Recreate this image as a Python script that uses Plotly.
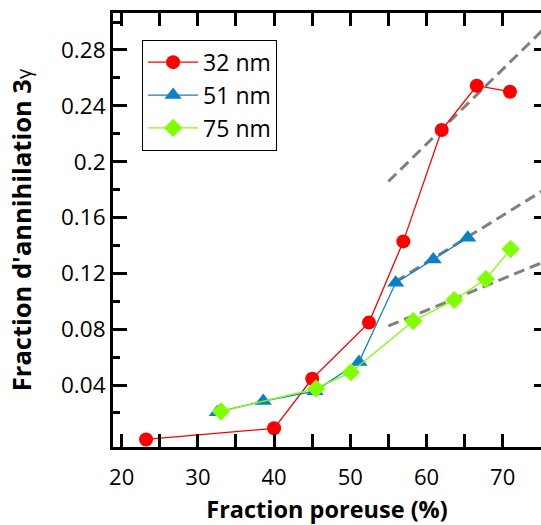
import plotly.graph_objects as go

# ---- data ----
x_32 = [23.2, 40.0, 45.0, 52.45, 56.96, 62.0, 66.6, 70.96]
y_32 = [0.001, 0.009, 0.0445, 0.0847, 0.1429, 0.2227, 0.2544, 0.2501]

x_51 = [32.55, 38.58, 45.37, 51.14, 55.96, 60.89, 65.41]
y_51 = [0.0205, 0.0285, 0.0356, 0.0565, 0.1132, 0.1300, 0.1455]

x_75 = [33.03, 45.5, 50.09, 58.27, 63.65, 67.8, 71.05]
y_75 = [0.0211, 0.0374, 0.0492, 0.0858, 0.1009, 0.1159, 0.1374]

fit1_x = [55.0, 75.5]
fit1_y = [0.1858, 0.2956]
fit2_x = [55.9, 75.5]
fit2_y = [0.1140, 0.1800]
fit3_x = [55.0, 75.5]
fit3_y = [0.0823, 0.1284]

series_names = ["32 nm", "51 nm", "75 nm"]
x_ticks = [20, 30, 40, 50, 60, 70]
x_minor = [25, 35, 45, 55, 65, 75]
y_ticks = [0.04, 0.08, 0.12, 0.16, 0.20, 0.24, 0.28]
y_labels = ["0.04", "0.08", "0.12", "0.16", "0.2", "0.24", "0.28"]
y_minor = [0.02, 0.06, 0.10, 0.14, 0.18, 0.22, 0.26, 0.30]

RED = "#FF0000"
BLUE = "#0A80C6"
GREEN = "#80FF00"
FONT = "Open Sans"

fig = go.Figure()

for fx, fy in [(fit1_x, fit1_y), (fit2_x, fit2_y), (fit3_x, fit3_y)]:
    fig.add_trace(go.Scatter(x=fx, y=fy, mode="lines", showlegend=False,
                             line=dict(color="#808080", width=3, dash="11px,6px"),
                             hoverinfo="skip", cliponaxis=True))

fig.add_trace(go.Scatter(x=x_32, y=y_32, mode="lines+markers", name=series_names[0],
                         line=dict(color=RED, width=1.3),
                         marker=dict(symbol="circle", size=14, color=RED)))
fig.add_trace(go.Scatter(x=x_51, y=y_51, mode="lines+markers", name=series_names[1],
                         line=dict(color=BLUE, width=1.3),
                         marker=dict(symbol="triangle-up", size=15, color=BLUE)))
fig.add_trace(go.Scatter(x=x_75, y=y_75, mode="lines+markers", name=series_names[2],
                         line=dict(color=GREEN, width=1.3),
                         marker=dict(symbol="diamond", size=14, color=GREEN)))

# dummy trace for right-hand tick axis
fig.add_trace(go.Scatter(x=[None], y=[None], yaxis="y2", showlegend=False, hoverinfo="skip"))

yr = [-0.0044, 0.3065]
xr = [18.86, 75.03]

fig.update_layout(
    width=541, height=525,
    margin=dict(l=113, r=0, t=13, b=78, autoexpand=False),
    paper_bgcolor="white", plot_bgcolor="white",
    font=dict(family=FONT, size=22, color="black"),
    hovermode=False,
    showlegend=True,
    legend=dict(x=0.068, y=0.9385, xanchor="left", yanchor="top",
                bgcolor="white", bordercolor="black", borderwidth=1,
                font=dict(family=FONT, size=23, color="black"),
                itemwidth=50, tracegroupgap=0),
    xaxis=dict(range=xr, showgrid=False, zeroline=False, automargin=False,
               showline=True, linecolor="black", linewidth=3, mirror="allticks",
               ticks="inside", ticklen=13, tickwidth=3, tickcolor="black",
               tickvals=x_ticks, ticktext=[str(v) for v in x_ticks],
               tickfont=dict(family=FONT, size=22), ticklabelstandoff=9,
               minor=dict(tickvals=x_minor, ticks="inside", ticklen=6, tickwidth=3, tickcolor="black"),
               title=dict(text="<b>Fraction poreuse (%)</b>", font=dict(family=FONT, size=23.5), standoff=15)),
    yaxis=dict(range=yr, showgrid=False, zeroline=False, automargin=False,
               showline=True, linecolor="black", linewidth=3, mirror=False,
               ticks="inside", ticklen=14, tickwidth=3, tickcolor="black",
               tickvals=y_ticks, ticktext=y_labels,
               tickfont=dict(family=FONT, size=22.5),
               minor=dict(tickvals=y_minor, ticks="inside", ticklen=7, tickwidth=3, tickcolor="black"),
               title=dict(text="<b>Fraction d'annihilation 3</b><span style='font-size:20px'>γ</span>",
                          font=dict(family=FONT, size=25.5), standoff=23)),
    yaxis2=dict(range=yr, overlaying="y", side="right", anchor="x", automargin=False,
                showgrid=False, zeroline=False, showline=False,
                ticks="inside", ticklen=7, tickwidth=3, tickcolor="black",
                tickvals=y_ticks, showticklabels=False),
)

fig.write_html("out.html", config={"displayModeBar": False, "staticPlot": True},
               post_script="document.body.style.margin='0';document.body.style.overflow='hidden';")
